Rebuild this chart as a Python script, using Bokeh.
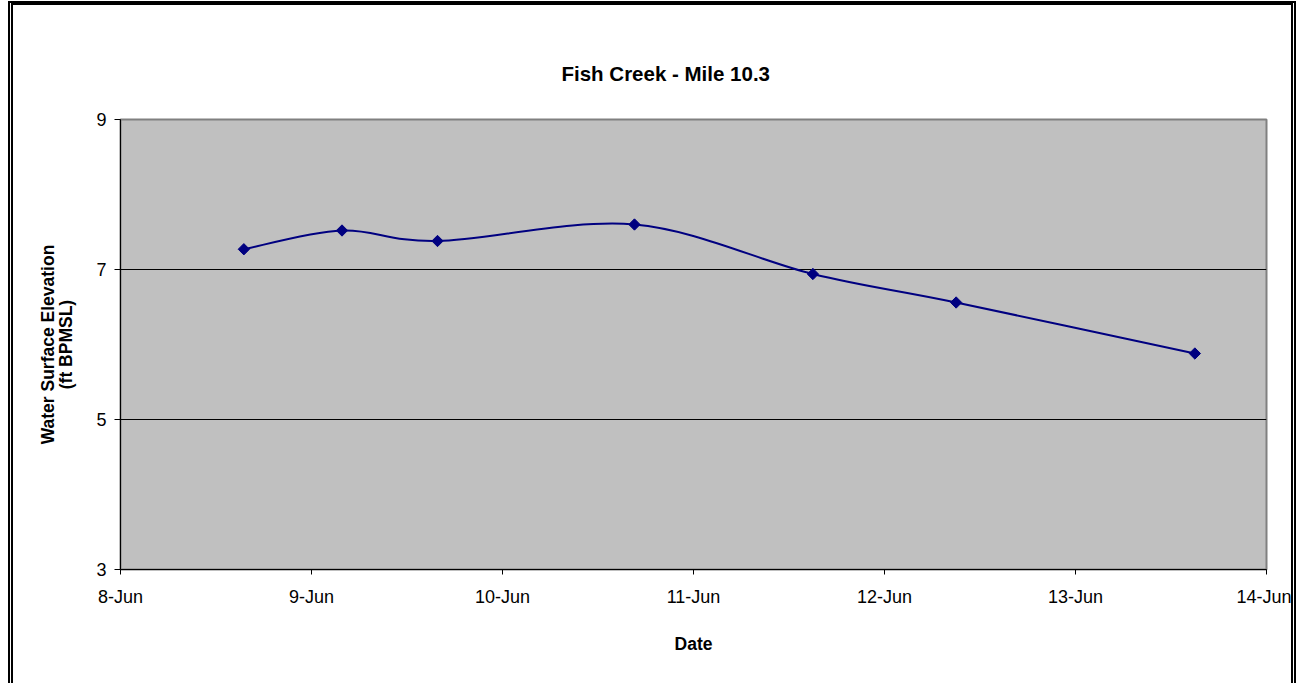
import numpy as np
import pandas as pd
from bokeh.plotting import figure
from bokeh.models import FixedTicker, Range1d, Title
from bokeh.embed import file_html
from bokeh.resources import INLINE

# ---- data ----
times = ["2006-06-08 15:30", "2006-06-09 03:50", "2006-06-09 15:50",
         "2006-06-10 16:35", "2006-06-11 15:00", "2006-06-12 09:00",
         "2006-06-13 15:00"]
elevation = [7.27, 7.52, 7.38, 7.60, 6.94, 6.56, 5.88]
x_start = "2006-06-08"
x_tick_labels = ["8-Jun", "9-Jun", "10-Jun", "11-Jun", "12-Jun", "13-Jun", "14-Jun"]
y_ticks = [3, 5, 7, 9]
title_text = "Fish Creek - Mile 10.3"
y_title = "Water Surface Elevation\n(ft BPMSL)"
x_title = "Date"

# days since start
t0 = pd.Timestamp(x_start)
xd = np.array([(pd.Timestamp(t) - t0) / pd.Timedelta(days=1) for t in times])
yd = np.array(elevation, dtype=float)

FONT = "Liberation Sans"
W, H = 1288, 682
L, R, T, B = 107, 35, 114, 118

p = figure(width=W, height=H, output_backend="svg", toolbar_location=None,
           x_range=Range1d(0, len(x_tick_labels) - 1), y_range=Range1d(min(y_ticks), max(y_ticks)),
           min_border_left=L, min_border_right=R, min_border_top=T, min_border_bottom=B)
p.styles = {
    "margin-left": "8px",
    "margin-top": "1px",
    "border-left": "5px double black",
    "border-right": "5px double black",
    "border-top": "4px solid black",
}
p.title = Title(text=title_text, align="left", offset=441, standoff=70,
                text_font=FONT, text_font_style="bold", text_font_size="20.5px",
                text_color="black")
p.background_fill_color = "#C0C0C0"
p.border_fill_color = "white"
p.outline_line_color = "#808080"
p.outline_line_width = 2

# axes
p.xaxis.ticker = FixedTicker(ticks=list(range(len(x_tick_labels))))
p.xaxis.major_label_overrides = {i: s for i, s in enumerate(x_tick_labels)}
p.yaxis.ticker = FixedTicker(ticks=y_ticks)
for ax in (p.xaxis[0], p.yaxis[0]):
    ax.axis_line_color = "black"
    ax.axis_line_width = 1
    ax.major_tick_line_color = "black"
    ax.major_tick_in = 0
    ax.minor_tick_line_color = None
    ax.major_label_text_font = FONT
    ax.major_label_text_font_size = "18px"
    ax.major_label_text_color = "black"
    ax.axis_label_text_font = FONT
    ax.axis_label_text_font_style = "bold"
    ax.axis_label_text_font_size = "17.5px"
    ax.axis_label_text_color = "black"
p.xaxis.major_tick_out = 5
p.yaxis.major_tick_out = 6
p.xaxis.major_label_standoff = 12
p.yaxis.major_label_standoff = 8
p.xaxis.axis_label = x_title
p.yaxis.axis_label = y_title
p.xaxis.axis_label_standoff = 24
p.yaxis.axis_label_standoff = 17
p.yaxis.axis_label_text_line_height = 0.9

p.xgrid.grid_line_color = None
p.ygrid.ticker = FixedTicker(ticks=[v for v in y_ticks if min(y_ticks) < v < max(y_ticks)])
p.ygrid.grid_line_color = "black"
p.ygrid.grid_line_width = 1

# smoothed line (Bezier, Catmull-Rom style control points)
n = len(xd)
x0s, y0s, x1s, y1s, cx0, cy0, cx1, cy1 = [], [], [], [], [], [], [], []
for i in range(n - 1):
    a = i - 1 if i > 0 else i
    d = i + 2 if i + 2 < n else i + 1
    x0s.append(xd[i]); y0s.append(yd[i]); x1s.append(xd[i + 1]); y1s.append(yd[i + 1])
    cx0.append(xd[i] + (xd[i + 1] - xd[a]) / 6.0)
    cy0.append(yd[i] + (yd[i + 1] - yd[a]) / 6.0)
    cx1.append(xd[i + 1] - (xd[d] - xd[i]) / 6.0)
    cy1.append(yd[i + 1] - (yd[d] - yd[i]) / 6.0)
p.bezier(x0=x0s, y0=y0s, x1=x1s, y1=y1s, cx0=cx0, cy0=cy0, cx1=cx1, cy1=cy1,
         line_color="#000080", line_width=2)
p.scatter(xd, yd, marker="square", angle=np.pi / 4, size=8,
          fill_color="#000080", line_color="#000080")

open("out.html", "w").write(file_html(p, INLINE))
